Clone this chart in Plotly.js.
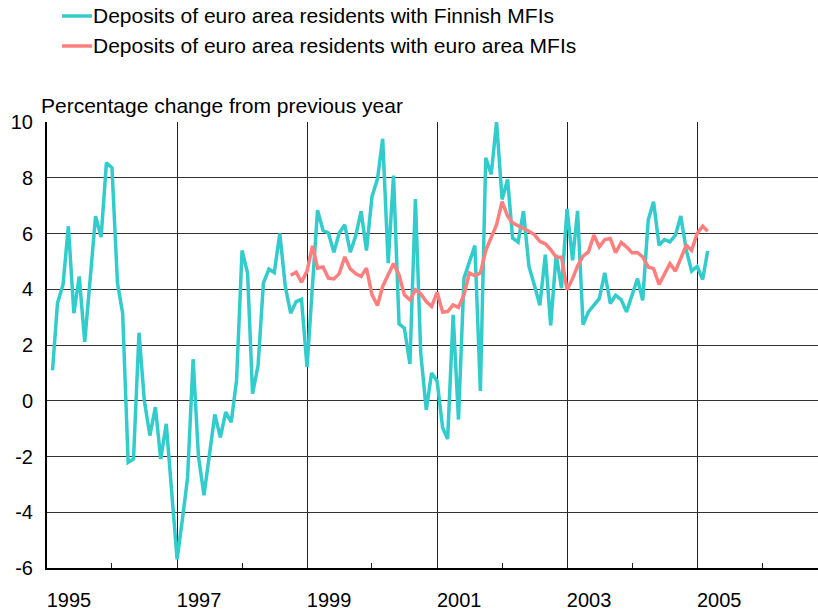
<!DOCTYPE html>
<html>
<head>
<meta charset="utf-8">
<script src="https://cdn.plot.ly/plotly-3.0.1.min.js"></script>
<style>html,body{margin:0;padding:0;background:#fff;}#chart{width:818px;height:613px;}</style>
</head>
<body>
<div id="chart"></div>
<script>
// Monthly observations, first month of each series
const finnishStart = [1995, 1];   // Jan 1995
const euroStart = [1998, 9];      // Sep 1998

const finnishName = "Deposits of euro area residents with Finnish MFIs";
const euroName = "Deposits of euro area residents with euro area MFIs";

// Percentage change from previous year
const finnish = [
  1.09, 3.5, 4.16, 6.26, 3.14, 4.46, 2.11, 4.6, 6.62, 5.87, 8.54, 8.36,
  4.22, 3.14, -2.21, -2.09, 2.44, 0.0, -1.25, -0.23, -2.09, -0.83, -3.4, -5.69,
  -4.2, -2.75, 1.49, -2.0, -3.39, -1.9, -0.49, -1.31, -0.41, -0.77, 0.73, 5.39,
  4.58, 0.25, 1.27, 4.22, 4.72, 4.6, 6.0, 4.1, 3.14, 3.56, 3.64, 1.21,
  4.0, 6.84, 6.11, 6.02, 5.33, 6.02, 6.31, 5.33, 5.9, 6.8, 5.39, 7.32,
  7.96, 9.4, 4.94, 8.08, 2.76, 2.6, 1.32, 7.24, 1.71, -0.33, 1.0, 0.7,
  -0.97, -1.37, 3.08, -0.68, 4.4, 5.0, 5.57, 0.35, 8.72, 8.12, 10.0, 7.22,
  7.94, 5.84, 5.69, 6.8, 4.82, 4.16, 3.42, 5.24, 2.7, 5.24, 4.04, 6.88,
  5.04, 6.81, 2.73, 3.19, 3.43, 3.66, 4.59, 3.49, 3.78, 3.63, 3.19, 3.75,
  4.38, 3.6, 6.48, 7.14, 5.58, 5.78, 5.7, 5.94, 6.63, 5.4, 4.65, 4.82,
  4.35, 5.37
];
const euro = [
  4.5, 4.61, 4.25, 4.65,
  5.56, 4.76, 4.8, 4.4, 4.37, 4.56, 5.16, 4.73, 4.56, 4.46, 4.76, 3.8,
  3.42, 4.1, 4.52, 4.92, 4.52, 3.8, 3.62, 3.98, 3.84, 3.56, 3.38, 3.89,
  3.18, 3.2, 3.44, 3.35, 3.8, 4.58, 4.49, 4.58, 5.39, 5.84, 6.32, 7.14,
  6.62, 6.38, 6.26, 6.18, 6.08, 5.96, 5.72, 5.63, 5.42, 5.15, 5.15, 3.98,
  4.38, 4.83, 5.19, 5.34, 5.94, 5.52, 5.78, 5.82, 5.31, 5.68, 5.52, 5.31,
  5.31, 5.16, 4.8, 4.74, 4.17, 4.56, 4.92, 4.65, 5.13, 5.58, 5.4, 6.0,
  6.26, 6.08
];

const yearTicks = ["1995", "1997", "1999", "2001", "2003", "2005"];
const yTicks = [-6, -4, -2, 0, 2, 4, 6, 8, 10];
const yTitle = "Percentage change from previous year";

const COLORS = {finnish: "#33CCCC", euro: "#FF7F7F"};

// month-end positions (plotted at the first day of the following month)
function monthDates(start, n) {
  const out = [];
  for (let i = 0; i < n; i++) {
    const d = new Date(Date.UTC(start[0], start[1] - 1 + i + 1, 1));
    out.push(d.toISOString().slice(0, 10));
  }
  return out;
}

const FONT = "Liberation Sans, Arial, sans-serif";
const W = 818, H = 613, ML = 47, MR = 0, MT = 122, MB = 45;
const PW = W - ML - MR, PH = H - MT - MB;
const px = x => (x - ML) / PW;          // pixel -> paper x
const py = y => (H - MB - y) / PH;      // pixel -> paper y

const traces = [
  {
    x: monthDates(finnishStart, finnish.length), y: finnish,
    name: finnishName, type: "scatter", mode: "lines",
    line: {color: COLORS.finnish, width: 3.5}
  },
  {
    x: monthDates(euroStart, euro.length), y: euro,
    name: euroName, type: "scatter", mode: "lines",
    line: {color: COLORS.euro, width: 3.5}
  }
];

const legendRows = [
  {name: finnishName, color: COLORS.finnish, y: 16},
  {name: euroName, color: COLORS.euro, y: 46}
];

const shapes = legendRows.map(r => ({
  type: "line", xref: "paper", yref: "paper",
  x0: px(62), x1: px(92), y0: py(r.y), y1: py(r.y),
  line: {color: r.color, width: 3.5}
}));

const annotations = legendRows.map(r => ({
  text: r.name, xref: "paper", yref: "paper",
  x: px(91), y: py(r.y), xanchor: "left", yanchor: "middle",
  showarrow: false, font: {family: FONT, size: 21, color: "#000"}
}));
annotations.push({
  text: yTitle, xref: "paper", yref: "paper",
  x: px(39), y: py(106), xanchor: "left", yanchor: "middle", showarrow: false,
  font: {family: FONT, size: 21, color: "#000"}
});

const layout = {
  width: W, height: H,
  margin: {l: ML, r: MR, t: MT, b: MB},
  paper_bgcolor: "#fff", plot_bgcolor: "#fff",
  font: {family: FONT, size: 20, color: "#000"},
  showlegend: false,
  xaxis: {
    type: "date",
    range: ["1995-01-01", "2006-11-11"],
    tickmode: "array",
    tickvals: yearTicks.map(y => y + "-01-01"),
    ticktext: yearTicks,
    ticks: "inside", ticklen: 5, tickcolor: "#222", tickwidth: 1,
    ticklabelshift: 22,
    ticklabelstandoff: 13,
    showgrid: true, gridcolor: "#222", gridwidth: 1,
    minor: {dtick: "M12", tick0: "1996-01-01", ticks: "inside", ticklen: 5, tickcolor: "#222", tickwidth: 1, showgrid: false},
    showline: true, linecolor: "#000", linewidth: 2,
    zeroline: false, fixedrange: true,
    tickfont: {family: FONT, size: 20, color: "#000"}
  },
  yaxis: {
    range: [-6, 10],
    tickmode: "array", tickvals: yTicks, ticktext: yTicks.map(String),
    ticks: "", showgrid: true, gridcolor: "#333", gridwidth: 1,
    showline: true, linecolor: "#000", linewidth: 2,
    zeroline: false, fixedrange: true,
    ticklabelstandoff: 8,
    tickfont: {family: FONT, size: 20, color: "#000"}
  },
  shapes: shapes,
  annotations: annotations
};

Plotly.newPlot("chart", traces, layout, {staticPlot: true, displayModeBar: false});
</script>
</body>
</html>
